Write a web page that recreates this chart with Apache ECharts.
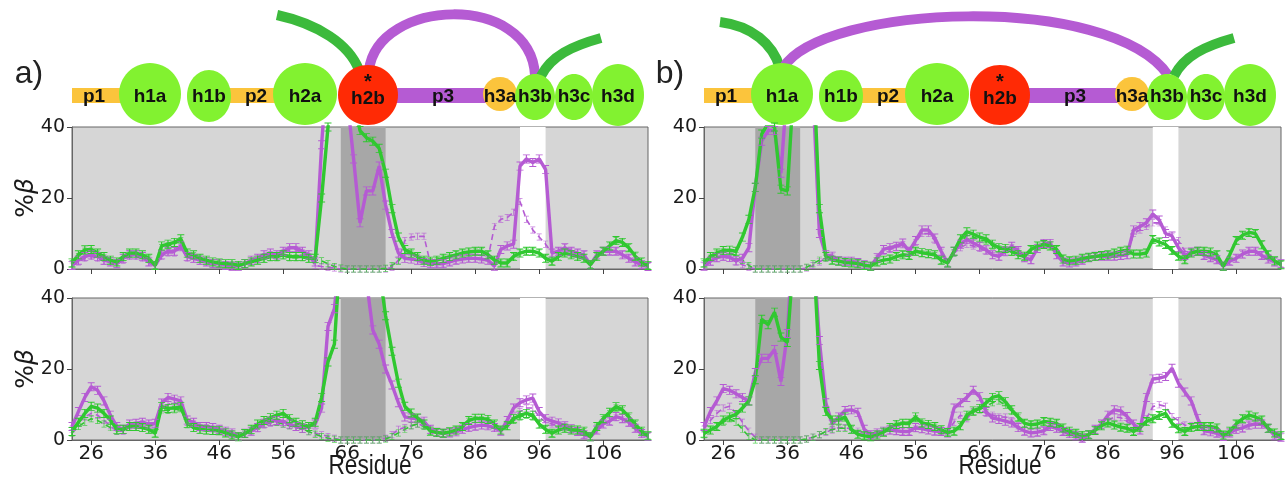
<!DOCTYPE html>
<html>
<head>
<meta charset="utf-8">
<script src="https://cdn.jsdelivr.net/npm/echarts@6/dist/echarts.min.js"></script>
<style>
html, body {margin: 0; padding: 0; background: #fff;}
#main {width: 1285px; height: 490px;}
</style>
</head>
<body>
<div id="main"></div>
<script>
var chart = echarts.init(document.getElementById('main'));

// residue numbers (x values)
var residues = [23, 24, 25, 26, 27, 28, 29, 30, 31, 32,
    33, 34, 35, 36, 37, 38, 39, 40, 41, 42,
    43, 44, 45, 46, 47, 48, 49, 50, 51, 52,
    53, 54, 55, 56, 57, 58, 59, 60, 61, 62,
    63, 64, 65, 66, 67, 68, 69, 70, 71, 72,
    73, 74, 75, 76, 77, 78, 79, 80, 81, 82,
    83, 84, 85, 86, 87, 88, 89, 90, 91, 92,
    93, 94, 95, 96, 97, 98, 99, 100, 101, 102,
    103, 104, 105, 106, 107, 108, 109, 110, 111, 112,
    113];
var xTicks = [26, 36, 46, 56, 66, 76, 86, 96, 106];

// shaded residue ranges
var darkBandA = [65, 72];
var darkBandB = [31, 38];
var whiteBand = [93, 97];

// panel a, top
var aTopP = [1, 2.5, 3.5, 4, 3.5, 2.5, 2, 1.5, 3, 4,
    4, 3.5, 2, 1, 4, 5, 5, 6.5, 3.5, 3,
    2.5, 2, 1.5, 1.5, 1, 0.8, 0.8, 1.5, 2.5, 3,
    4, 4.5, 4, 5, 6, 6, 5, 4, 2, 35,
    60, 60, 60, 48, 31, 13, 22, 22, 29, 18,
    10, 4.5, 3, 2.8, 2.5, 1.8, 1.5, 1.5, 1.5, 2,
    2.5, 2.8, 3, 3, 2.8, 2.5, 0.8, 5.5, 6.5, 7,
    29, 31, 30, 31, 28, 4.5, 5, 6, 5, 4.5,
    4, 1.2, 4, 5, 5, 5, 4, 3, 2, 1.2,
    0.7];
var aTopPd = [0.8, 2, 3, 3.5, 3, 2.2, 1.8, 1.3, 2.5, 3.5,
    3.5, 3, 1.8, 0.8, 3.5, 4.5, 4.5, 6, 3, 2.8,
    2.2, 1.8, 1.3, 1.3, 0.8, 0.6, 0.6, 1.3, 2.2, 2.8,
    3.5, 4, 3.5, 4.5, 5.5, 5.5, 4.5, 3.5, 1, 0.7,
    0.5, 0.3, 0, 0, 0, 0, 0, 0, 0, 0,
    0.5, 2.5, 8, 9, 9.2, 9.2, 1.5, 1.5, 1.5, 2,
    2.5, 2.8, 3, 3, 2.8, 3, 12, 14, 14.5, 16,
    19, 14, 11, 9, 7, 4.5, 5, 6, 5, 4.5,
    4, 1.2, 4, 5, 5, 5, 4, 3, 2, 1.2,
    0.7];
var aTopG = [1.7, 4, 5.4, 5.5, 4.5, 3.5, 2.5, 2, 3.5, 4.5,
    4.5, 4, 3, 1, 6.5, 7, 7.5, 8.5, 4.5, 4,
    3, 2.5, 2, 1.7, 1.5, 1.5, 1, 1.5, 2, 2.5,
    3, 3.5, 3.5, 4, 3.5, 3.5, 3.5, 3, 3, 20,
    40, 55, 60, 60, 48, 39, 37, 36, 34, 27,
    17, 9, 5.5, 4.5, 3.5, 2.5, 2.2, 2.5, 3, 3.5,
    4, 4.5, 4.8, 5, 5, 4, 2.5, 1.7, 1.7, 3.5,
    4.5, 5, 5, 4.5, 3, 2.2, 3.5, 4.5, 4, 3.5,
    3, 1.2, 3.5, 5, 6.5, 8, 7.5, 6, 3.6, 2,
    1];
var aTopGd = [1.5, 3.5, 5, 5, 4.2, 3.2, 2.3, 1.8, 3.2, 4.2,
    4.2, 3.8, 2.8, 1, 6, 6.5, 7, 8, 4.2, 3.8,
    2.8, 2.3, 1.8, 1.5, 1.3, 1.3, 0.9, 1.3, 1.8, 2.3,
    2.8, 3.2, 3.2, 3.7, 3.2, 3.2, 3.2, 2.8, 2.6, 2.3,
    1.5, 0.7, 0.3, 0, 0, 0, 0, 0, 0, 0.2,
    1, 2.2, 4.5, 4.2, 3.3, 2.4, 2.1, 2.4, 2.8, 3.3,
    4, 4.5, 4.8, 5, 5, 4, 2.5, 1.7, 1.7, 3.5,
    4.5, 5, 5, 4.5, 3, 2.2, 3.5, 4.5, 4, 3.5,
    3, 1.2, 3.5, 5, 6.5, 8, 7.5, 6, 3.6, 2,
    1];

// panel a, bottom
var aBotP = [3.8, 8, 12, 15, 14, 11, 7, 3.8, 3, 4.5,
    4.7, 5, 4.5, 4.7, 10.4, 12, 11.5, 11, 5.6, 5,
    3.8, 3.8, 3.5, 3, 2.5, 2, 1, 1.9, 2.5, 3.5,
    4.7, 5.3, 5.5, 5.2, 4.5, 3.8, 3.3, 3.8, 4.5, 9,
    32, 37, 55, 60, 60, 60, 45, 31, 27, 20,
    15.5, 10.5, 6.5, 6.2, 6, 5.3, 3, 2.2, 1.9, 2,
    2.3, 3, 3.5, 3.9, 4.2, 4, 3.5, 2.5, 5.5, 9,
    10.5, 11.3, 11.8, 8, 6, 5.3, 4.8, 4, 3.2, 2.4,
    1.5, 0.9, 2.8, 4.5, 5.3, 6.6, 6, 5, 3.3, 1.8,
    1];
var aBotPd = [3, 5, 6.5, 7.5, 7, 5.5, 4, 2.5, 2.5, 4,
    4.2, 4.5, 4, 4, 9, 10, 10.5, 10, 5, 4.5,
    3.5, 3.5, 3.2, 2.8, 2.3, 1.8, 0.9, 1.7, 2.3, 3.2,
    4.2, 4.7, 5, 4.5, 4, 3.5, 3, 2.5, 2, 1.5,
    1, 0.5, 0, 0, 0, 0, 0, 0, 0, 0.5,
    1.5, 3, 3.5, 4, 4.5, 4, 2.8, 2.1, 1.9, 2,
    2.3, 3, 3.5, 3.9, 4.2, 4, 3.5, 2.5, 4.5, 6.5,
    8, 9, 9, 6.5, 5, 4.5, 4.3, 3.8, 3, 2.4,
    1.5, 0.9, 2.8, 4.5, 5.3, 6.3, 5.8, 4.8, 3.2, 1.8,
    1];
var aBotG = [2.4, 5, 7.5, 9.5, 9, 7.5, 5.6, 3, 3, 3.8,
    3.8, 3.5, 3, 1.9, 9.4, 8.9, 9, 9.4, 4.7, 3.5,
    3, 2.8, 2.7, 2.6, 2, 1.4, 0.9, 1.8, 3, 4.5,
    5.5, 6.3, 7, 7.5, 6, 5, 4.3, 3.8, 5, 12,
    22, 27, 55, 60, 60, 60, 60, 60, 48, 35,
    25, 16, 9.5, 7.6, 6.2, 4.5, 2.5, 2.1, 1.9, 2.3,
    2.8, 3.8, 5.5, 6.1, 6.1, 5.8, 4.5, 2.8, 4, 6,
    7, 7.5, 7, 4.5, 3, 1.9, 2.8, 3.3, 2.8, 2.8,
    2.5, 0.9, 3.8, 6, 7.8, 9.4, 8.5, 6.5, 4.5, 2.5,
    1.2];
var aBotGd = [2, 3.8, 5, 6, 5.5, 4.5, 3.5, 2.5, 2.7, 3.5,
    3.5, 3.3, 2.8, 1.8, 8.5, 8.3, 8.5, 8.8, 4.3, 3.3,
    2.8, 2.6, 2.5, 2.4, 1.8, 1.3, 0.9, 1.6, 2.6, 3.8,
    4.5, 5, 5, 4.5, 4, 3.5, 3, 2.3, 1.6, 1,
    0.5, 0.2, 0, 0, 0, 0, 0, 0, 0, 0.3,
    1, 2, 3, 4, 4.5, 3.8, 2.4, 2.1, 1.9, 2.3,
    2.8, 3.8, 5.3, 5.8, 5.8, 5.5, 4.3, 2.8, 3.8, 5.5,
    6.5, 7, 6.5, 4.3, 2.9, 1.9, 2.8, 3.2, 2.8, 2.7,
    2.4, 0.9, 3.6, 5.7, 7.4, 9, 8.2, 6.3, 4.3, 2.4,
    1.2];

// panel b, top
var bTopP = [0.8, 2.2, 3.2, 3.6, 3.3, 2.3, 3, 6, 23, 36,
    39, 39, 27, 52, 60, 60, 60, 50, 10, 4,
    3.6, 2.3, 2.2, 2.2, 1.8, 1.2, 0.8, 3.2, 5.5, 6,
    6.4, 7.3, 5, 8, 11, 11, 8.7, 5, 1.7, 5,
    7, 8.3, 7.3, 6.4, 5.4, 4, 3.6, 5, 6.4, 5.2,
    3.2, 2.6, 5.8, 7.2, 7.2, 4, 2, 1.7, 2, 2.5,
    3.2, 3.6, 3.6, 3.6, 3.6, 3.8, 4, 11, 12, 13,
    15.5, 13.8, 10, 9.3, 6, 3.8, 4.8, 5, 3.8, 3.2,
    2.6, 0.8, 2.2, 3, 4.2, 5, 5, 3.8, 2.8, 2,
    1.5];
var bTopPd = [0.8, 2, 3, 3.4, 3, 2, 1.2, 0.5, 0, 0,
    0, 0, 0, 0, 0, 0, 0.3, 1, 2, 3,
    3.4, 2.3, 2.2, 2.2, 1.8, 1.2, 0.8, 3, 5, 5.5,
    6, 6.8, 4.8, 7.5, 10, 10, 8, 4.7, 1.7, 4.5,
    6, 7, 6.5, 5.8, 5, 3.8, 3.4, 4.6, 6, 5,
    3, 2.5, 5.5, 6.8, 6.8, 3.8, 2, 1.7, 2, 2.5,
    3.2, 3.5, 3.5, 3.5, 3.5, 3.7, 3.8, 10, 11, 12,
    13, 13, 11, 9, 8, 5, 4.8, 5, 3.8, 3.2,
    2.6, 0.8, 2.2, 3, 4, 4.8, 4.8, 3.8, 2.8, 2,
    1.5];
var bTopG = [1.7, 3.5, 4.5, 5.2, 5.3, 5, 9, 14, 23, 38,
    41, 40, 22.5, 22, 52, 60, 60, 60, 17, 3.5,
    2.5, 2.2, 1.8, 1.7, 1.5, 1, 0.8, 2, 2.5, 2.8,
    3.5, 4, 3.8, 5, 4.6, 4.3, 4, 2.5, 1.7, 5,
    8.5, 10.5, 9.8, 9, 8.5, 7, 6, 5.8, 5, 4,
    3.6, 5.5, 6.5, 6.9, 6.5, 5.5, 2.8, 2.3, 2.5, 3,
    3.3, 3.5, 3.8, 4, 4.5, 5, 5.3, 4.2, 4.2, 4.5,
    8.3, 7.6, 6.9, 5.2, 3.6, 2.6, 4.5, 5, 5, 4.8,
    4, 0.8, 4, 8, 9.5, 10.3, 10, 6.8, 4, 2.3,
    1.2];
var bTopGd = [1.5, 3, 4.2, 4.8, 4.6, 3.8, 2.5, 1, 0, 0,
    0, 0, 0, 0, 0, 0, 0.5, 1.5, 2.5, 3,
    2.5, 2.2, 1.8, 1.7, 1.5, 1, 0.8, 2, 2.5, 2.8,
    3.5, 4, 3.8, 4.8, 4.4, 4.1, 3.8, 2.4, 1.7, 4.5,
    7.5, 9.5, 9, 8.3, 7.8, 6.5, 5.6, 5.4, 4.7, 3.8,
    3.6, 5.5, 6.5, 6.9, 6.5, 5.5, 2.8, 2.3, 2.5, 3,
    3.3, 3.5, 3.8, 4, 4.5, 5, 5.3, 4.2, 4.2, 4.5,
    8.3, 7.6, 6.9, 5.2, 3.6, 2.6, 4.5, 5, 5, 4.8,
    4, 0.8, 4, 8, 9.5, 10.3, 10, 6.8, 4, 2.3,
    1.2];

// panel b, bottom
var bBotP = [3.8, 8, 11, 14.5, 14, 13, 12, 11, 19, 23,
    23, 25.5, 16.5, 30, 60, 60, 60, 55, 28, 10.5,
    4.5, 6.5, 8.3, 8.5, 7.8, 3, 1.5, 2, 2.5, 2.8,
    2.6, 2.4, 2.4, 3.5, 3.2, 2.8, 2.5, 2.4, 2, 9,
    10.5, 12, 14, 12.2, 8, 6.2, 5.8, 5.3, 4.8, 3.5,
    2.5, 2, 2.2, 2.6, 3.8, 3.3, 2.4, 1.8, 1.2, 0.5,
    1.5, 3, 4.5, 7, 8.5, 8.2, 6.6, 4.5, 2.8, 12,
    17.2, 17.4, 17.9, 20.2, 16, 13.5, 11, 6, 2.6, 2.3,
    1.9, 1, 2, 3, 3.4, 4.2, 4.5, 4.5, 3.3, 1.2,
    0.8];
var bBotPd = [3, 5.5, 7.5, 9, 9.5, 7.5, 5, 2.5, 0.8, 0,
    0, 0, 0, 0, 0, 0, 0.3, 0.8, 1.5, 2.2,
    2.8, 3.5, 3.5, 3, 2.5, 2, 1.4, 1.8, 2.3, 2.6,
    2.5, 2.4, 2.4, 3.2, 3, 2.7, 2.5, 2.4, 2.5, 5,
    7, 6, 8, 8.5, 7.5, 7, 6.5, 6.5, 5.5, 4,
    2.5, 2, 2.2, 2.6, 3.5, 3.2, 2.4, 1.8, 1.2, 0.5,
    1.5, 2.8, 4, 5.5, 6.5, 6.3, 5.2, 4, 2.8, 6,
    9.4, 9.9, 9.5, 6.6, 5.5, 4.2, 4, 3.8, 2.6, 2.3,
    1.9, 1, 2, 2.8, 3.2, 4, 4.2, 4.2, 3.1, 1.2,
    0.8];
var bBotG = [1.9, 2.8, 3.8, 5.6, 6.5, 7.2, 9, 11, 17, 34,
    32.5, 36, 29, 27.5, 52, 60, 60, 55, 21, 8,
    5.6, 5.6, 6.5, 3, 1.6, 1.2, 0.9, 1.4, 2.2, 3.5,
    4.4, 4.7, 4.7, 6.5, 4.8, 4.4, 3.8, 2.9, 2.1, 2.5,
    4, 7, 8.2, 8.9, 10.5, 12, 12.5, 10.8, 8.5, 6.5,
    4.7, 4.3, 4.5, 5.2, 5, 4.7, 3.4, 2.5, 1.9, 1.3,
    1.5, 2.7, 4, 4.8, 4.2, 3.6, 3.3, 2.4, 3.5, 5.2,
    6, 6.9, 7.5, 4.7, 3.2, 2.4, 3.5, 3.8, 3.8, 3.8,
    3.4, 1.4, 2.5, 4.5, 6, 7, 6.5, 5.6, 3.3, 2,
    1.3];
var bBotGd = [1.5, 2.8, 3.8, 5, 6, 5, 3, 1, 0, 0,
    0, 0, 0, 0, 0, 0, 0.3, 0.8, 1.5, 2.4,
    3, 3.3, 3.3, 2.8, 1.6, 1.2, 0.9, 1.4, 2.2, 3.3,
    4.2, 4.4, 4.4, 6, 4.5, 4.1, 3.6, 2.8, 2.1, 2.5,
    3.8, 6.5, 7.8, 8.5, 9.5, 10.5, 11, 9.8, 8, 6.2,
    4.7, 4.3, 4.5, 5.2, 5, 4.7, 3.4, 2.5, 1.9, 1.3,
    1.5, 2.7, 4, 4.8, 4.2, 3.6, 3.3, 2.4, 3.5, 5.2,
    6, 6.9, 7.5, 4.7, 3.2, 2.4, 3.5, 3.8, 3.8, 3.8,
    3.4, 1.4, 2.5, 4.5, 6, 7, 6.5, 5.6, 3.3, 2,
    1.3];

var purple = '#b55bd3';
var green = '#30c830';
// error bar glyph drawn at every point
var errBar = 'path://M0,0H6V1H0ZM2.5,0H3.5V10H2.5ZM0,9H6V10H0Z';

function pts(vals) {
    return residues.map(function (r, i) {
        return [r, vals[i]];
    });
}

function curve(idx, vals, color, dashed) {
    return {
        type: 'line',
        xAxisIndex: idx,
        yAxisIndex: idx,
        data: pts(vals),
        symbol: errBar,
        symbolSize: dashed ? [5, 7] : [7, 9],
        showAllSymbol: true,
        silent: true,
        clip: true,
        animation: false,
        itemStyle: {color: color, borderWidth: 0, opacity: dashed ? 0.8 : 1},
        lineStyle: {color: color, width: dashed ? 1.6 : 3.4, type: dashed ? [6, 4] : 'solid'},
        z: dashed ? 3 : 4
    };
}

function bands(idx, dark) {
    return {
        type: 'line',
        xAxisIndex: idx,
        yAxisIndex: idx,
        data: [[23, 0]],
        symbol: 'none',
        lineStyle: {opacity: 0},
        silent: true,
        animation: false,
        z: 1,
        markArea: {
            silent: true,
            data: [
                [{xAxis: dark[0], itemStyle: {color: '#a7a7a7'}}, {xAxis: dark[1]}],
                [{xAxis: whiteBand[0], itemStyle: {color: '#ffffff'}}, {xAxis: whiteBand[1]}]
            ]
        }
    };
}

var grids = [
    {left: 72, top: 127, width: 576, height: 142},
    {left: 72, top: 298, width: 576, height: 142},
    {left: 704, top: 127, width: 577, height: 142},
    {left: 704, top: 298, width: 577, height: 142}
];
grids.forEach(function (g) {
    g.show = true;
    g.backgroundColor = '#d6d6d6';
    g.borderColor = '#666';
    g.borderWidth = 1;
});

var xAxes = grids.map(function (g, i) {
    return {
        type: 'value', gridIndex: i, min: 23, max: 113,
        axisLine: {show: true, lineStyle: {color: '#666'}},
        axisTick: {show: true, customValues: xTicks, length: 5, lineStyle: {color: '#444'}},
        axisLabel: {show: i % 2 === 1, customValues: xTicks, margin: 4,
            fontFamily: 'DejaVu Sans', fontSize: 20, color: '#1a1a1a'},
        splitLine: {show: false}
    };
});
var yAxes = grids.map(function (g, i) {
    return {
        type: 'value', gridIndex: i, min: 0, max: 40, interval: 20,
        axisLine: {show: true, lineStyle: {color: '#666'}},
        axisTick: {show: true, length: 5, lineStyle: {color: '#444'}},
        axisLabel: {margin: 7, fontFamily: 'DejaVu Sans', fontSize: 19, color: '#1a1a1a'},
        splitLine: {show: false}
    };
});

var series = [
    bands(0, darkBandA), curve(0, aTopPd, purple, true), curve(0, aTopGd, green, true),
    curve(0, aTopP, purple, false), curve(0, aTopG, green, false),
    bands(1, darkBandA), curve(1, aBotPd, purple, true), curve(1, aBotGd, green, true),
    curve(1, aBotP, purple, false), curve(1, aBotG, green, false),
    bands(2, darkBandB), curve(2, bTopPd, purple, true), curve(2, bTopGd, green, true),
    curve(2, bTopP, purple, false), curve(2, bTopG, green, false),
    bands(3, darkBandB), curve(3, bBotPd, purple, true), curve(3, bBotGd, green, true),
    curve(3, bBotP, purple, false), curve(3, bBotG, green, false)
];

// ---- domain schematic above each panel ----
var yellow = '#fbc43c';
var lime = '#82f230';
var red = '#ff2a05';
var arcGreen = '#3cba3c';
var domains = [
    // name, cx, cy, rx, ry, colour
    ['h1a', 150, 94, 31, 31, lime],
    ['h1b', 209, 96, 22, 26, lime],
    ['h2a', 305, 94, 32, 31, lime],
    ['h2b', 368, 95, 30, 30, red],
    ['h3a', 500, 94, 17, 17, yellow],
    ['h3b', 535, 97, 20, 23, lime],
    ['h3c', 574, 97, 19, 23, lime],
    ['h3d', 618, 95, 26, 31, lime]
];
var linkers = [
    ['p1', 72, 150, 94, yellow],
    ['p2', 209, 305, 256, yellow],
    ['p3', 368, 500, 443, purple]
];
var labelFont = {fontFamily: 'Liberation Sans', fontWeight: 'bold', fontSize: 19, fill: '#111',
    textAlign: 'center', textVerticalAlign: 'middle'};

function arcEl(p, color) {
    return {
        type: 'bezierCurve', silent: true,
        shape: {x1: p[0], y1: p[1], cpx1: p[2], cpy1: p[3], cpx2: p[4], cpy2: p[5], x2: p[6], y2: p[7]},
        style: {stroke: color, lineWidth: 10, fill: null}
    };
}

function schematic(dx, arcs) {
    var els = [];
    arcs.forEach(function (a) {
        els.push(arcEl(a[0], a[1]));
    });
    linkers.forEach(function (l) {
        els.push({type: 'rect', silent: true, shape: {x: l[1] + dx, y: 88, width: l[2] - l[1], height: 15},
            style: {fill: l[4]}});
    });
    domains.forEach(function (d) {
        els.push({type: 'ellipse', silent: true, shape: {cx: d[1] + dx, cy: d[2], rx: d[3], ry: d[4]},
            style: {fill: d[5]}});
    });
    linkers.forEach(function (l) {
        els.push({type: 'text', silent: true, x: l[3] + dx, y: 97,
            style: Object.assign({text: l[0]}, labelFont)});
    });
    domains.forEach(function (d) {
        els.push({type: 'text', silent: true, x: d[1] + dx, y: d[0] === 'h2b' ? 99 : 97,
            style: Object.assign({text: d[0]}, labelFont)});
    });
    els.push({type: 'text', silent: true, x: 368 + dx, y: 82,
        style: Object.assign({}, labelFont, {text: '*', fontSize: 20})});
    return els;
}

var arcsA = [
    [[277, 15, 318, 24, 349, 44, 359, 70], arcGreen],
    [[369, 70, 378, -2, 530, -8, 535, 75], purple],
    [[541, 76, 551, 56, 572, 46, 601, 38], arcGreen]
];
var arcsB = [
    [[720, 22, 752, 26, 773, 44, 780, 68], arcGreen],
    [[783, 68, 822, 4, 1110, -8, 1168, 75], purple],
    [[1174, 76, 1184, 56, 1205, 46, 1234, 38], arcGreen]
];

var graphics = [].concat(schematic(0, arcsA), schematic(632, arcsB));
graphics.push({type: 'text', silent: true, x: 29, y: 74,
    style: {text: 'a)', fontFamily: 'Liberation Sans', fontSize: 32, fill: '#222', textAlign: 'center', textVerticalAlign: 'middle'}});
graphics.push({type: 'text', silent: true, x: 670, y: 74,
    style: {text: 'b)', fontFamily: 'Liberation Sans', fontSize: 32, fill: '#222', textAlign: 'center', textVerticalAlign: 'middle'}});
[198, 369].forEach(function (cy) {
    graphics.push({type: 'text', silent: true, x: 26, y: cy, rotation: Math.PI / 2,
        style: {text: '{p|%}{b|β}', textAlign: 'center', textVerticalAlign: 'middle',
            rich: {
                p: {fontFamily: 'DejaVu Sans', fontSize: 25, fill: '#1a1a1a'},
                b: {fontFamily: 'DejaVu Sans', fontStyle: 'italic', fontSize: 25, fill: '#1a1a1a'}
            }}});
});
[370, 1000].forEach(function (cx) {
    graphics.push({type: 'text', silent: true, x: cx, y: 467, scaleX: 0.84,
        style: {text: 'Residue', fontFamily: 'Liberation Sans', fontSize: 27, fill: '#1a1a1a', textAlign: 'center', textVerticalAlign: 'middle'}});
});

var option = {
    backgroundColor: '#ffffff',
    animation: false,
    grid: grids,
    xAxis: xAxes,
    yAxis: yAxes,
    series: series,
    graphic: {elements: graphics}
};
chart.setOption(option);
</script>
</body>
</html>
